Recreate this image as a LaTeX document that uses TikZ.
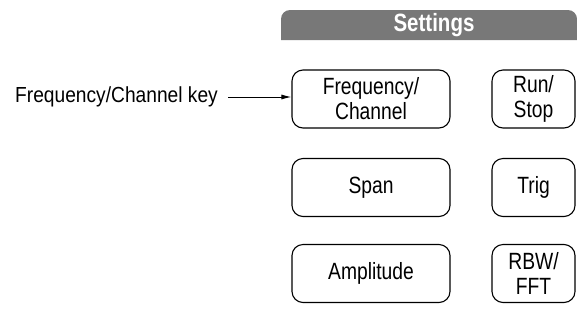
\documentclass[tikz,border=0pt]{standalone}
\usepackage{fontspec}
\setmainfont{Liberation Sans}[FakeStretch=0.88]
\newfontfamily\keyfont{Liberation Sans}[FakeStretch=0.82]
\usetikzlibrary{arrows.meta}
\definecolor{bargray}{HTML}{787878}
\begin{document}
\begin{tikzpicture}[x=1pt,y=-1pt,
  key/.style={draw=black, line width=1.1pt, rounded corners=11pt, inner sep=0pt, align=center, font=\keyfont\fontsize{23.5}{25}\selectfont},
  lbl/.style={font=\fontsize{21.8}{22}\selectfont, inner sep=0pt}]
\useasboundingbox (0,0) rectangle (577,322);
\fill[bargray, rounded corners=9pt] (281,40) -- (281,10) -- (577,10) [sharp corners] -- (577,40) -- cycle;
\node[font=\keyfont\bfseries\fontsize{25}{25}\selectfont, text=white, inner sep=0pt] (settings) at (434,25) {Settings};
\node[key, minimum width=158pt, minimum height=58pt] (freq) at (371,99) {Frequency/\\Channel};
\node[key, minimum width=158pt, minimum height=58pt] (span) at (371,187.5) {Span};
\node[key, minimum width=158pt, minimum height=58pt] (amp) at (371,273.5) {Amplitude};
\node[key, minimum width=83pt, minimum height=58pt] (run) at (533.5,99) {Run/\\Stop};
\node[key, minimum width=83pt, minimum height=58pt] (trig) at (533.5,187.5) {Trig};
\node[key, minimum width=83pt, minimum height=58pt] (rbw) at (533.5,273.5) {RBW/\\FFT};
\node[lbl, anchor=west] (fclabel) at (15,97) {Frequency/Channel key};
\coordinate (astart) at (228,97);
\draw[line width=1pt, -{Latex[length=10pt,width=5pt]}] (astart) -- (freq.west |- astart);
\end{tikzpicture}
\end{document}
